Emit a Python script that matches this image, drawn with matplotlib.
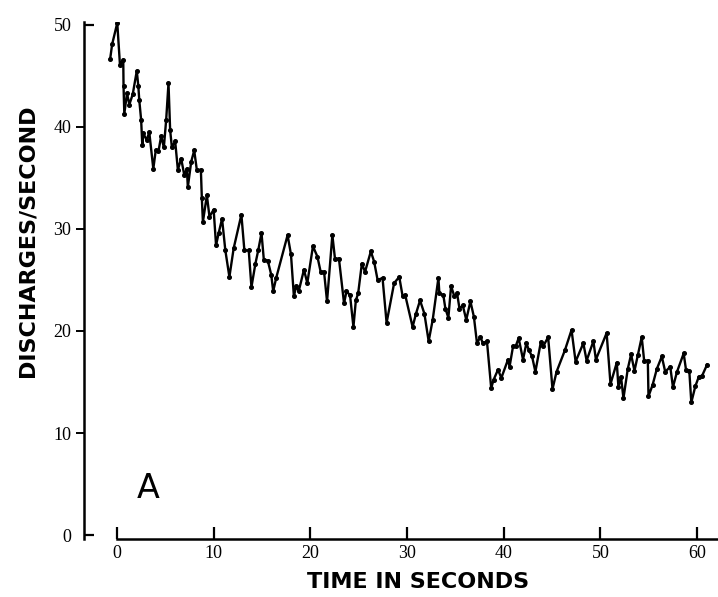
import matplotlib
matplotlib.use("Agg")
import matplotlib.pyplot as plt

# discharge rate
times = [-0.70, -0.50, 0.03, 0.31, 0.65, 0.68, 0.76, 1.04, 1.28, 1.63,
         2.05, 2.21, 2.31, 2.50, 2.62, 2.72, 3.07, 3.34, 3.76, 4.01,
         4.29, 4.57, 4.85, 5.09, 5.33, 5.50, 5.68, 6.02, 6.30, 6.64,
         6.96, 7.23, 7.33, 7.68, 7.99, 8.26, 8.68, 8.78, 8.89, 9.30,
         9.57, 10.00, 10.25, 10.52, 10.87, 11.21, 11.63, 12.07, 12.87, 13.18,
         13.63, 13.91, 14.32, 14.61, 14.95, 15.19, 15.60, 15.96, 16.16, 16.47,
         17.65, 18.00, 18.30, 18.54, 18.80, 19.34, 19.69, 20.27, 20.73, 21.07,
         21.42, 21.73, 22.28, 22.55, 22.96, 23.49, 23.74, 24.11, 24.46, 24.71,
         24.95, 25.33, 25.66, 26.26, 26.60, 26.96, 27.47, 27.89, 28.67, 29.20,
         29.55, 29.82, 30.58, 30.93, 31.35, 31.80, 32.24, 32.66, 33.25, 33.35,
         33.76, 33.97, 34.28, 34.56, 34.90, 35.18, 35.43, 35.77, 36.13, 36.56,
         36.92, 37.24, 37.58, 37.86, 38.27, 38.71, 38.95, 39.41, 39.76, 40.45,
         40.61, 40.97, 41.24, 41.55, 42.00, 42.35, 42.62, 42.94, 43.28, 43.84,
         44.09, 44.60, 45.05, 45.47, 46.33, 47.02, 47.44, 48.24, 48.58, 49.28,
         49.54, 50.65, 51.05, 51.70, 51.87, 52.14, 52.39, 52.84, 53.18, 53.53,
         53.87, 54.28, 54.53, 54.91, 54.98, 55.40, 55.85, 56.36, 56.71, 57.23,
         57.51, 57.93, 58.62, 58.86, 59.20, 59.41, 59.83, 60.18, 60.52, 61.04]

rates = [46.7, 48.1, 50.2, 46.1, 46.6, 44.0, 41.3, 43.3, 42.2, 43.2,
         45.5, 44.0, 42.6, 40.7, 38.2, 39.4, 38.7, 39.5, 35.9, 37.7,
         37.6, 39.1, 38.0, 40.7, 44.3, 39.7, 38.0, 38.6, 35.8, 36.9,
         35.3, 35.9, 34.1, 36.6, 37.7, 35.8, 35.8, 33.0, 30.7, 33.3,
         31.2, 31.9, 28.4, 29.6, 31.0, 27.9, 25.3, 28.1, 31.4, 27.9,
         27.9, 24.3, 26.6, 27.9, 29.6, 27.0, 26.9, 25.5, 23.9, 25.2,
         29.4, 27.5, 23.4, 24.4, 23.9, 26.0, 24.7, 28.3, 27.3, 25.8,
         25.8, 22.9, 29.4, 27.1, 27.1, 22.7, 23.9, 23.5, 20.4, 23.0,
         23.7, 26.6, 25.8, 27.8, 26.8, 25.0, 25.2, 20.8, 24.7, 25.3,
         23.4, 23.5, 20.4, 21.7, 23.0, 21.7, 19.0, 21.1, 25.2, 23.7,
         23.5, 22.2, 21.3, 24.4, 23.4, 23.7, 22.2, 22.5, 21.1, 22.9,
         21.4, 18.8, 19.4, 18.8, 19.0, 14.4, 15.2, 16.2, 15.4, 17.2,
         16.5, 18.5, 18.5, 19.3, 17.2, 18.8, 18.1, 17.5, 16.0, 18.9,
         18.5, 19.4, 14.3, 16.0, 18.1, 20.1, 17.0, 18.8, 17.1, 19.0,
         17.2, 19.8, 14.8, 16.9, 14.5, 15.5, 13.4, 16.3, 17.7, 16.1,
         17.6, 19.4, 17.1, 17.1, 13.6, 14.7, 16.3, 17.5, 16.0, 16.5,
         14.5, 16.0, 17.8, 16.2, 16.1, 13.0, 14.6, 15.5, 15.6, 16.7]

x_ticks = [0, 10, 20, 30, 40, 50, 60]
y_ticks = [0, 10, 20, 30, 40, 50]

fig = plt.figure(figsize=(7.18, 5.97), dpi=100)
ax = fig.add_axes([84 / 718, 58 / 597, 634 / 718, 517 / 597])

ax.plot(times, rates, color="black", lw=1.7, marker="o", ms=2.6)

ax.set_xlim(-3.41, 62.17)
ax.set_ylim(-0.39, 50.29)

ax.spines["top"].set_visible(False)
ax.spines["right"].set_visible(False)
ax.spines["left"].set_linewidth(1.8)
ax.spines["bottom"].set_linewidth(1.8)
ax.spines["bottom"].set_bounds(0, 62.17)

tick_font = {"family": "Liberation Serif", "size": 13}

ax.set_xticks(x_ticks)
ax.set_xticklabels([str(v) for v in x_ticks], fontdict=tick_font)
ax.tick_params(axis="x", direction="in", length=9, width=1.6, pad=4)

ax.set_yticks(y_ticks)
ax.set_yticklabels([str(v) for v in y_ticks], fontdict=tick_font)
ax.tick_params(axis="y", direction="out", length=6, width=1.4, pad=3)
# ends of the y axis are hooked inwards instead
for t in ax.yaxis.get_major_ticks():
    if t.get_loc() in (0, 50):
        t.tick1line.set_visible(False)
ax.yaxis.remove_overlapping_locs = False
ax.set_yticks([0, 50], minor=True)
ax.tick_params(axis="y", which="minor", direction="in", length=7, width=1.6)

ax.text(3.2, 4.6, "A", fontsize=24, ha="center", va="center")

fig.text(28 / 718, (597 - 241) / 597, "DISCHARGES/SECOND", rotation=90,
         ha="center", va="center", fontsize=16, fontweight="bold",
         family="DejaVu Sans")
fig.text(418 / 718, 15 / 597, "TIME IN SECONDS", ha="center", va="center",
         fontsize=16, fontweight="bold", family="DejaVu Sans")

fig.savefig("out.png", dpi=100)
